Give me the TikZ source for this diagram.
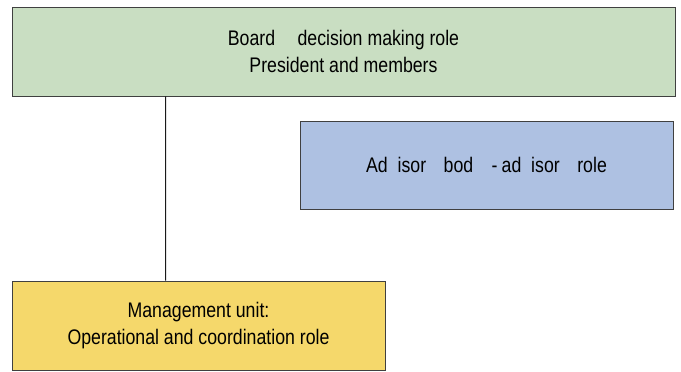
\documentclass[tikz,border=0pt]{standalone}
\usepackage{fontspec}
\setmainfont[FakeStretch=0.84]{Liberation Sans}
\usetikzlibrary{positioning}
\tikzset{
  rolebox/.style={draw=black!75, line width=0.5pt, align=center, font=\fontsize{15}{19.5}\selectfont, inner sep=0pt},
  rolelink/.style={draw=black!90, line width=0.6pt},
}
\definecolor{boardgreen}{HTML}{C9DEC2}
\definecolor{advblue}{HTML}{AEC1E2}
\definecolor{mgmtyellow}{HTML}{F5D86B}

\begin{document}
\begin{tikzpicture}
    \useasboundingbox (0,0) rectangle (17.025,-9.3);
    \node[rolebox, fill=boardgreen, minimum width=16.575cm, minimum height=2.225cm] (board) at (8.5875,-1.2875) {Board\hspace{16pt}decision making role\\President and members};
    \node[rolebox, fill=advblue, minimum width=9.325cm, minimum height=2.2cm] (adv) at (12.1625,-4.125) {Ad\hspace{7pt}isor\hspace{12.5pt}bod\hspace{13pt}-\hspace{3pt}ad\hspace{7pt}isor\hspace{12.5pt}role};
    \node[rolebox, fill=mgmtyellow, minimum width=9.325cm, minimum height=2.225cm] (mgmt) at (4.9625,-8.1375) {Management unit:\\Operational and coordination role};
    \draw[rolelink] ([xshift=3.85cm]board.south west) -- ([xshift=3.85cm]mgmt.north west);
\end{tikzpicture}
\end{document}
